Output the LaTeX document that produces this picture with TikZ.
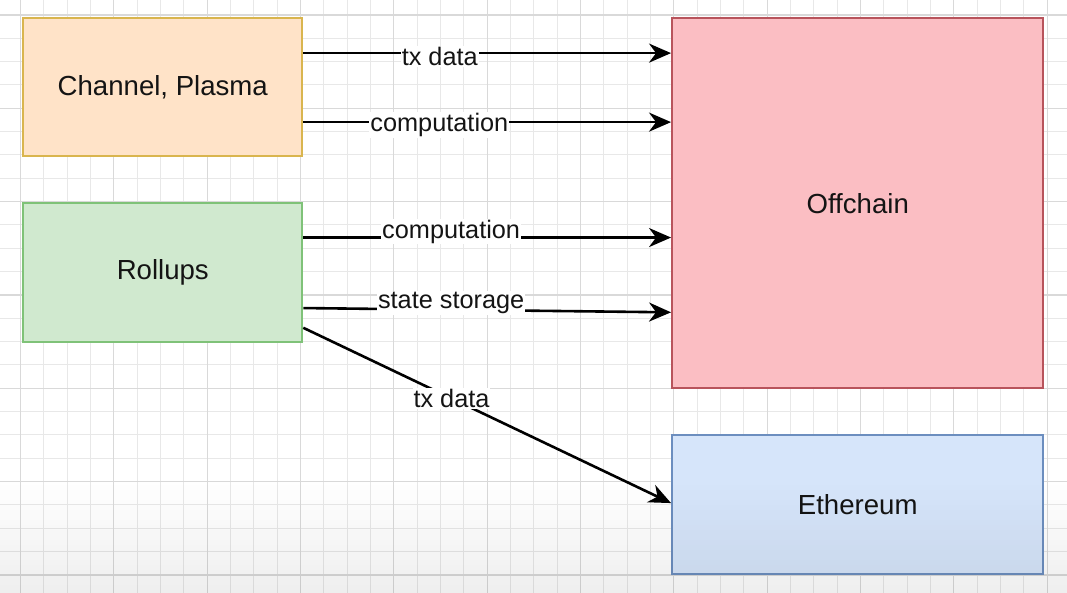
\documentclass[tikz,border=0pt]{standalone}
\usepackage{fontspec}
\setmainfont{Liberation Sans}
\usetikzlibrary{arrows.meta,calc}
\definecolor{gridminor}{HTML}{E8E8E8}
\definecolor{gridmajor}{HTML}{D9D9D9}
\definecolor{cpfill}{HTML}{FFE3C8}
\definecolor{cpdraw}{HTML}{D9B54E}
\definecolor{rufill}{HTML}{D0E9CF}
\definecolor{rudraw}{HTML}{7FC278}
\definecolor{offfill}{HTML}{FBBEC3}
\definecolor{offdraw}{HTML}{B8545C}
\definecolor{ethfill}{HTML}{D6E5FA}
\definecolor{ethdraw}{HTML}{6C8EBF}
\definecolor{txt}{HTML}{141414}
\tikzset{
  box/.style={rectangle, line width=2pt, text=txt, inner sep=0pt,
    font=\fontsize{27.6}{33}\selectfont},
  arr/.style={line width=2.6pt, draw=black, -{Stealth[length=22pt,width=19pt,inset=7pt]}},
  lbl/.style={fill=white, text=txt, inner sep=1pt, anchor=base,
    font=\fontsize{25.3}{30}\selectfont}
}
\begin{document}
\begin{tikzpicture}[x=1pt,y=-1pt]
\useasboundingbox (0,0) rectangle (1067,593);
\fill[white] (0,0) rectangle (1067,593);
% grid
\foreach \i in {-1,...,45} {
  \pgfmathsetmacro\gx{20.5+23.333*\i}
  \draw[gridminor, line width=1pt] (\gx,0) -- (\gx,593);
}
\foreach \j in {-1,...,25} {
  \pgfmathsetmacro\gy{15+23.333*\j}
  \draw[gridminor, line width=1pt] (0,\gy) -- (1067,\gy);
}
\foreach \i in {0,4,...,44} {
  \pgfmathsetmacro\gx{20.5+23.333*\i}
  \draw[gridmajor, line width=1.2pt] (\gx,0) -- (\gx,593);
}
\foreach \j in {0,4,...,24} {
  \pgfmathsetmacro\gy{15+23.333*\j}
  \draw[gridmajor, line width=1.2pt] (0,\gy) -- (1067,\gy);
}
% nodes
\node[box, fill=cpfill, draw=cpdraw, minimum width=279pt, minimum height=137.7pt] (cp) at (162.8,87.2) {Channel, Plasma};
\node[box, fill=rufill, draw=rudraw, minimum width=279pt, minimum height=139pt] (ru) at (162.8,272.8) {Rollups};
\node[box, fill=offfill, draw=offdraw, minimum width=371.3pt, minimum height=369.7pt] (off) at (857.7,203.2) {Offchain};
\node[box, fill=ethfill, draw=ethdraw, minimum width=371.3pt, minimum height=139pt] (eth) at (857.7,504.5) {Ethereum};
% connectors
\draw[arr] ($(cp.north east)!0.256!(cp.south east)$) coordinate (a1) -- (a1 -| off.west)
  node[lbl, pos=0.371, yshift=-12.7pt] {tx data};
\draw[arr] ($(cp.north east)!0.75!(cp.south east)$) coordinate (a2) -- (a2 -| off.west)
  node[lbl, pos=0.37, yshift=-9.5pt] {computation};
\draw[arr] ($(ru.north east)!0.25!(ru.south east)$) coordinate (a3) -- (a3 -| off.west)
  node[lbl, pos=0.402, yshift=-0.7pt] {computation};
\draw[arr] ($(ru.north east)!0.75!(ru.south east)$) -- ($(off.north west)!0.7936!(off.south west)$)
  node[lbl, pos=0.402, yshift=1.3pt] {state storage};
\draw[arr] ($(ru.north east)!0.89!(ru.south east)$) -- ($(eth.north west)!0.49!(eth.south west)$)
  node[lbl, pos=0.403, yshift=-9pt] {tx data};
% bottom fade
\foreach \k in {0,...,22} {
  \pgfmathsetmacro\yy{480+5*\k}
  \pgfmathsetmacro\op{0.003*\k}
  \fill[black, opacity=\op] (0,\yy) rectangle (1067,\yy+5);
}
\end{tikzpicture}
\end{document}
